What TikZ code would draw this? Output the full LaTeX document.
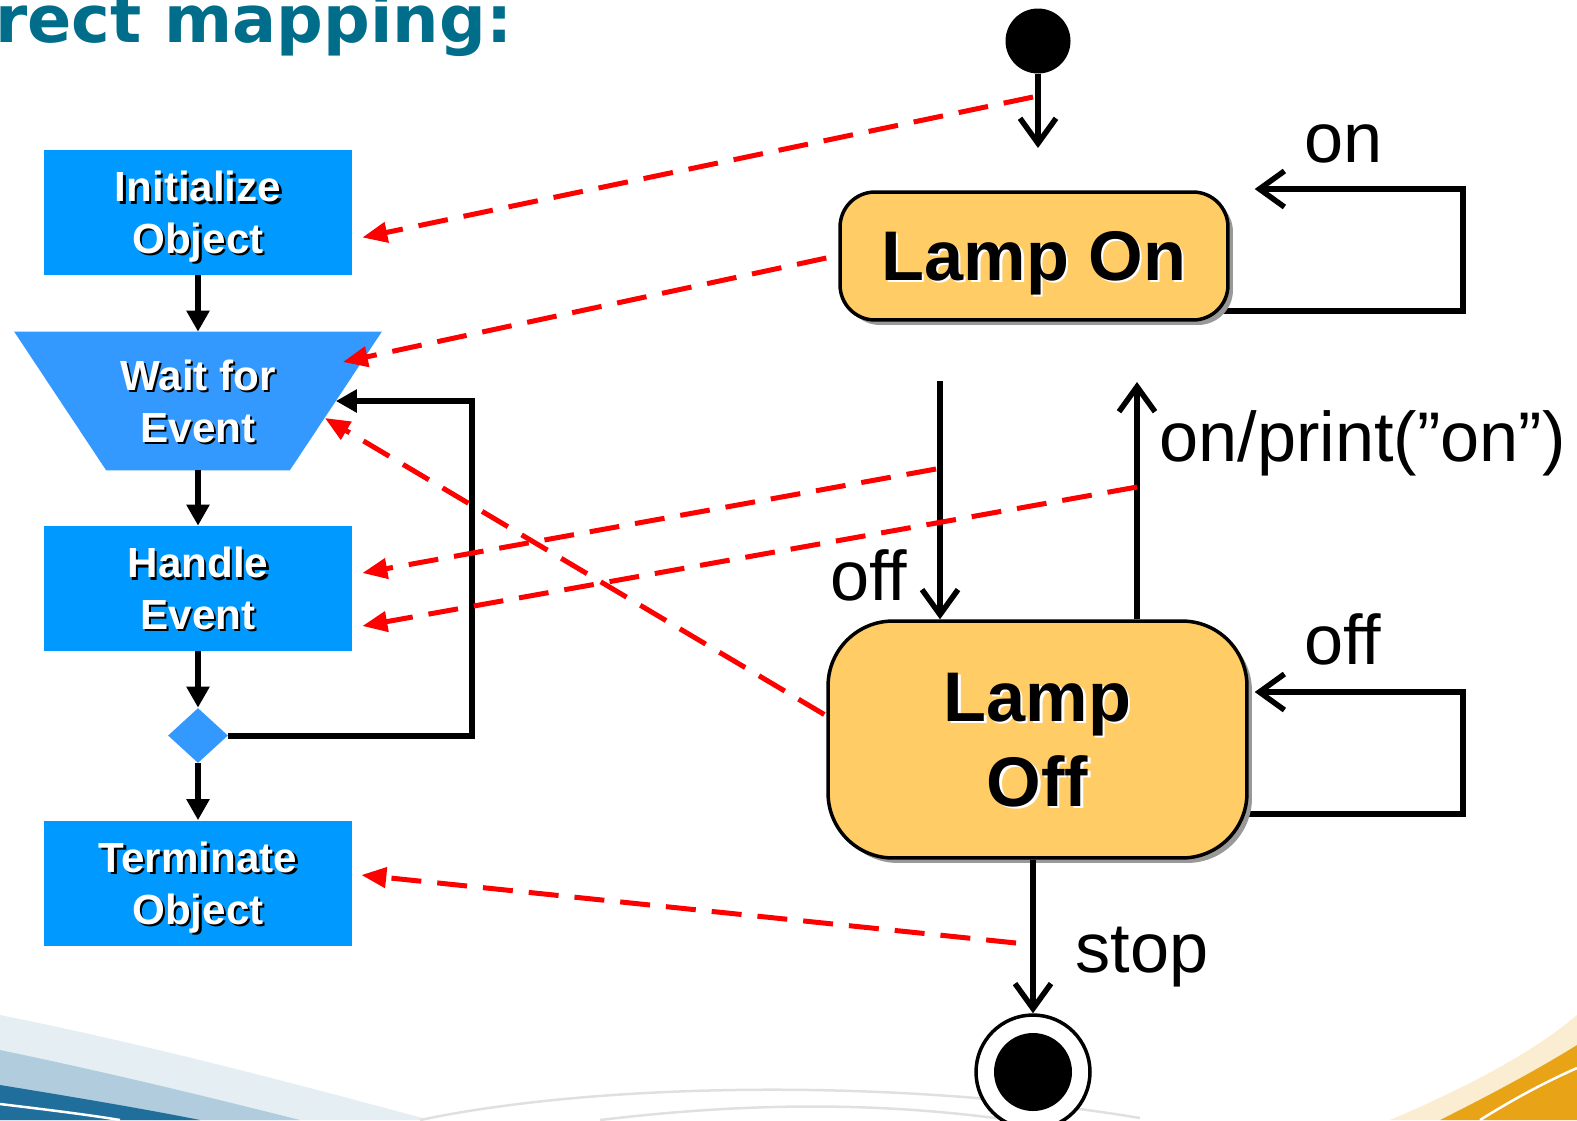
\documentclass[tikz,border=0pt]{standalone}
\usepackage{fontspec}
\setmainfont{Liberation Sans}
\newfontfamily\titlefont{DejaVu Sans}
\usetikzlibrary{positioning,calc,shapes.geometric,arrows.meta,shadows,backgrounds}
\definecolor{cFlow}{HTML}{0099FF}
\definecolor{cWait}{HTML}{3399FF}
\definecolor{cLamp}{HTML}{FFCC66}
\definecolor{cTitle}{HTML}{006E8A}
\definecolor{cMap}{HTML}{FF0000}
\definecolor{cSwoosh}{HTML}{1F6E9C}
\definecolor{cGold}{HTML}{E8A317}
\newcommand{\shd}[2][black]{\makebox[0pt][l]{\hspace{0.045cm}\raisebox{-0.045cm}{\color{#1}#2}}#2}
\tikzset{
  flowbox/.style={rectangle,fill=cFlow,text=white,minimum width=6.16cm,minimum height=2.5cm,inner sep=0pt,align=center,text depth=0pt,font=\fontsize{24}{29.5}\selectfont\bfseries},
  waitbox/.style={rectangle,minimum width=7.34cm,minimum height=2.76cm,inner sep=0pt,text=white,align=center,text depth=0pt,font=\fontsize{24}{29.5}\selectfont\bfseries},
  choice/.style={diamond,fill=cWait,minimum width=1.2cm,minimum height=1.1cm,inner sep=0pt},
  flow/.style={-{Triangle[length=0.42cm,width=0.44cm]},line width=0.12cm},
  lamp/.style={rectangle,draw=black,line width=0.07cm,fill=cLamp,align=center,text depth=0pt,inner sep=0pt,font=\fontsize{40}{48.4}\selectfont\bfseries,drop shadow={shadow xshift=0.1cm,shadow yshift=-0.1cm,fill=black!40,opacity=1}},
  initst/.style={circle,fill=black,minimum size=1.3cm,inner sep=0pt},
  finalst/.style={circle,draw=black,line width=0.07cm,fill=white,minimum size=2.28cm,inner sep=0pt,path picture={\fill[black] (path picture bounding box.center) circle (0.78cm);}},
  trans/.style={-{Straight Barb[length=0.5cm,width=0.72cm]},line width=0.11cm},
  evlabel/.style={font=\fontsize{40}{48}\selectfont,inner sep=0pt,anchor=base west},
  maparrow/.style={-{Triangle[length=0.5cm,width=0.4cm]},cMap,line width=0.1cm,dash pattern=on 0.6cm off 0.32cm},
}
\begin{document}
\begin{tikzpicture}[x=0.02cm,y=-0.02cm]
  \useasboundingbox (0,0) rectangle (1577,1120);
  \fill[cSwoosh!12] (0,1015) .. controls (150,1045) and (300,1085) .. (430,1120) -- (0,1120) -- cycle;
  \fill[cSwoosh!35] (0,1050) .. controls (120,1075) and (220,1100) .. (300,1120) -- (0,1120) -- cycle;
  \fill[cSwoosh] (0,1085) .. controls (80,1098) and (150,1110) .. (200,1120) -- (0,1120) -- cycle;
  \draw[white,line width=0.05cm] (0,1104) .. controls (50,1110) and (90,1115) .. (120,1120);
  \fill[cGold!20] (1390,1120) .. controls (1460,1090) and (1530,1055) .. (1577,1015) -- (1577,1120) -- cycle;
  \fill[cGold] (1440,1120) .. controls (1500,1090) and (1545,1065) .. (1577,1045) -- (1577,1120) -- cycle;
  \draw[white,line width=0.05cm] (1480,1120) .. controls (1520,1095) and (1550,1080) .. (1577,1068);
  \draw[black!12,line width=0.05cm] (420,1120) .. controls (600,1082) and (900,1078) .. (1140,1118);
  \draw[black!12,line width=0.05cm] (600,1120) .. controls (750,1102) and (880,1102) .. (1010,1120);

  \node[anchor=base west,inner sep=0pt,text=cTitle,font=\fontsize{37.2}{40}\selectfont\titlefont\bfseries] (title) at (-5,42) {rect mapping:};

  \node[flowbox] (init) at (198,212.5) {\shd{Initialize}\\\shd{Object}};
  \node[waitbox] (wait) at (198,401) {\shd{Wait for}\\\shd{Event}};
  \begin{scope}[on background layer]
    \fill[cWait] (wait.north west) -- (wait.north east) -- ($(wait.south east)+(-92,0)$) -- ($(wait.south west)+(92,0)$) -- cycle;
  \end{scope}
  \node[flowbox] (handle) at (198,588.5) {\shd{Handle}\\\shd{Event}};
  \node[choice] (choice) at (198,735.5) {};
  \node[flowbox] (term) at (198,883) {\shd{Terminate}\\\shd{Object}};
  \foreach \a/\b in {init/wait,wait/handle,handle/choice,choice/term} \draw[flow] (\a)--(\b);
  \draw[flow] (choice.east) -| ($(wait.east)+(90,0)$) -- ($(wait.east)+(-46,0)$);

  \node[initst] (start) at (1038,41) {};
  \node[lamp,minimum width=7.76cm,minimum height=2.56cm,rounded corners=0.7cm] (lampon) at (1034,256) {\shd[white]{Lamp On}};
  \node[lamp,minimum width=8.38cm,minimum height=4.74cm,rounded corners=1.3cm] (lampoff) at (1037.5,739.5) {\shd[white]{Lamp}\\\shd[white]{Off}};
  \node[finalst] (final) at (1033,1072) {};

  \coordinate (startarr) at (1038,148);
  \coordinate (offsrc) at (940,381);
  \coordinate (ondst) at (1137,382);
  \draw[trans] (start) -- (startarr);
  \draw[trans] (offsrc) -- (offsrc |- lampoff.north);
  \draw[trans] (ondst |- lampoff.north) -- (ondst);
  \draw[trans] (lampoff.south -| final) -- (final.north);
  \begin{scope}[on background layer]
    \draw[trans] ($(lampon.east)+(-20,55)$) -| (1463,189) -- ($(lampon.east)+(25,-67)$);
    \draw[trans] ($(lampoff.east)+(-20,74.5)$) -| (1463,692) -- ($(lampoff.east)+(6,-47.5)$);
  \end{scope}

  \node[evlabel] (lbon) at (1304,162) {on};
  \node[evlabel] (lboff) at (1304,664) {off};
  \node[evlabel] (lbofftr) at (830,600) {off};
  \node[evlabel] (lbontr) at (1159,461) {on/print(”on”)};
  \node[evlabel] (lbstop) at (1075,972) {stop};

  \coordinate (initmap) at (1033,97);
  \coordinate (offtrmap) at (936,469);
  \coordinate (ontrmap) at (1137,487);
  \coordinate (stopmap) at (1016,943);
  \draw[maparrow] (initmap) -- ($(init.east)+(10,25)$);
  \draw[maparrow] ($(lampon.west)+(-12,2)$) -- ($(wait.east)+(-39,-39)$);
  \draw[maparrow] ($(lampoff.west)+(-2,-25)$) -- ($(wait.east)+(-57,17)$);
  \draw[maparrow] (offtrmap) -- ($(handle.east)+(10,-15.5)$);
  \draw[maparrow] (ontrmap) -- ($(handle.east)+(10,37.5)$);
  \draw[maparrow] (stopmap) -- ($(term.east)+(9,-8)$);
\end{tikzpicture}
\end{document}
